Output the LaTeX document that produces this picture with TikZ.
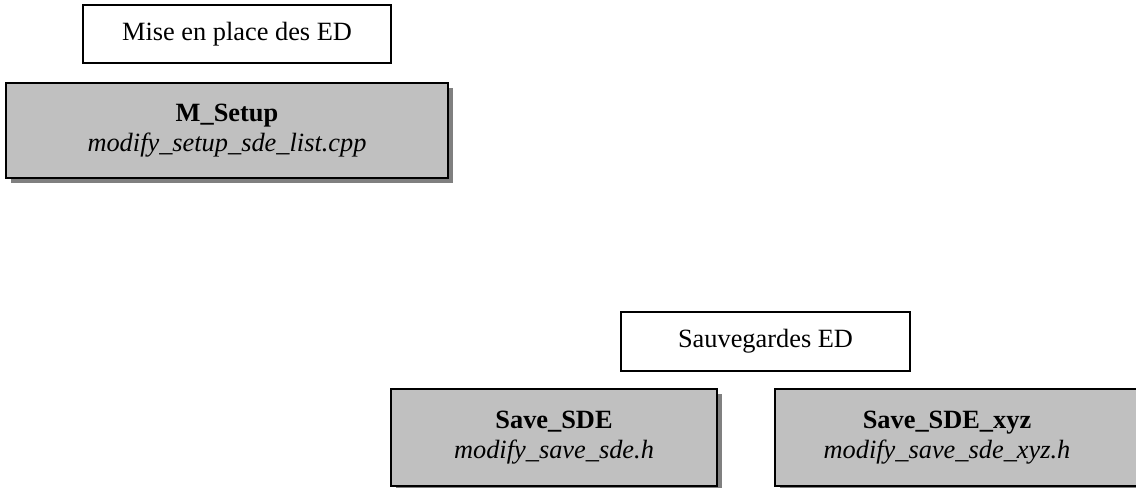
\documentclass[tikz,border=0pt]{standalone}
\usepackage{fontspec}
\setmainfont{Liberation Serif}
\usepackage{tikz}
\usetikzlibrary{positioning,shadows}
\definecolor{grisfond}{RGB}{192,192,192}
\definecolor{grisombre}{RGB}{128,128,128}
\tikzset{
  titrebox/.style={rectangle, draw, line width=0.8pt, fill=white, inner sep=0pt},
  grisbox/.style={rectangle, draw, line width=1.3pt, fill=grisfond, inner sep=0pt, align=center,
    drop shadow={shadow xshift=0.1cm, shadow yshift=-0.1cm, fill=grisombre, opacity=1}},
}
\begin{document}
\begin{tikzpicture}[font=\fontsize{15}{17}\selectfont]
   \useasboundingbox (0,0) rectangle (22.72,-9.76);
   \begin{scope}
   \clip (0,0) rectangle (22.72,-9.76);
   % titres
   \draw (4.74,-0.68) node[titrebox, minimum height=1.16cm, minimum width=6.16cm] (miseenplace) {Mise en place des ED};
   \draw (15.31,-6.83) node[titrebox, minimum height=1.18cm, minimum width=5.78cm] (sauvegardes) {Sauvegardes ED};
   % modules
   \draw (4.54,-2.61) node[grisbox, minimum height=1.9cm, minimum width=8.84cm] (msetup) {\textbf{M\_Setup}\\\textit{modify\_setup\_sde\_list.cpp}};
   \draw (11.08,-8.75) node[grisbox, minimum height=1.94cm, minimum width=6.52cm] (savesde) {\textbf{Save\_SDE}\\\textit{modify\_save\_sde.h}};
   % boite coupee au bord droit
   \draw (19.4,-8.75) node[grisbox, minimum height=1.94cm, minimum width=7.8cm] (savesdexyz) {};
   \draw (18.94,-8.75) node[align=center, inner sep=0pt] (savesdexyztxt) {\textbf{Save\_SDE\_xyz}\\\textit{modify\_save\_sde\_xyz.h}};
   \end{scope}
\end{tikzpicture}
\end{document}
